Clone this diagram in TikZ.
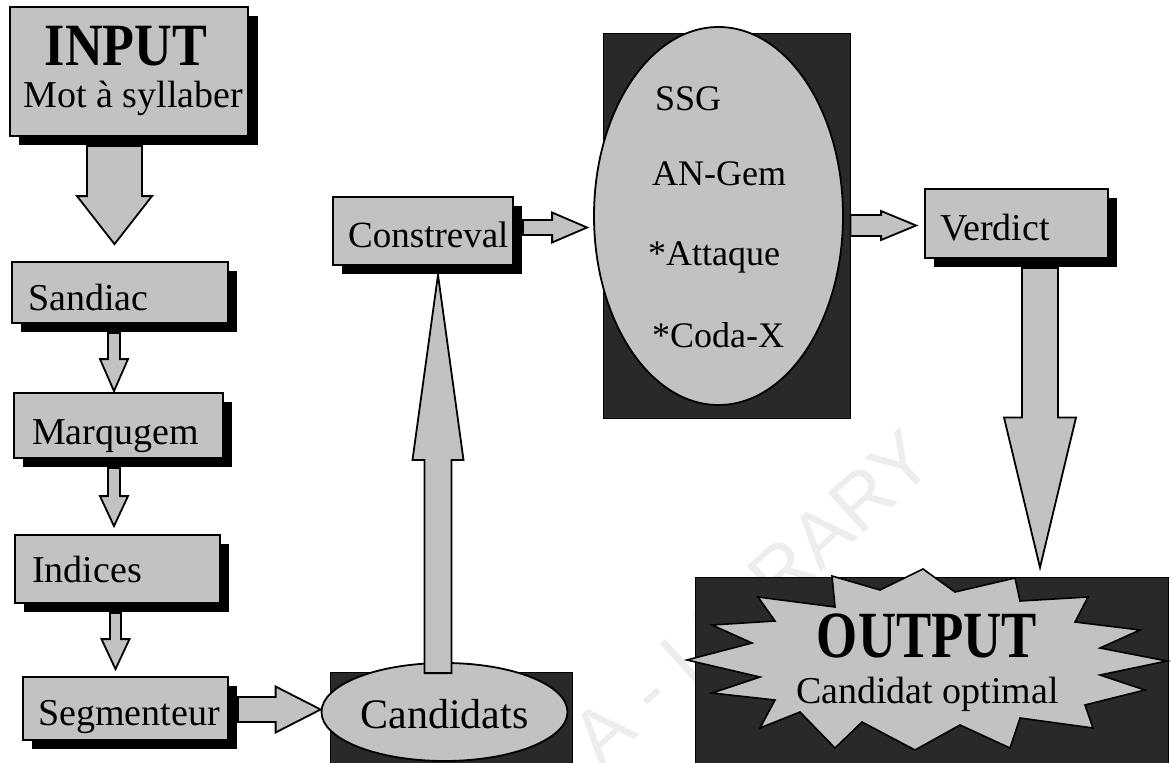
\documentclass[tikz,border=0pt]{standalone}
\usepackage{fontspec}
\setmainfont{Liberation Serif}
\setsansfont{Liberation Sans}
\usetikzlibrary{calc,shapes.geometric}

\definecolor{boxgray}{gray}{0.76}
\definecolor{darkbg}{gray}{0.16}

\tikzset{
  panel/.style={rectangle, draw=black, line width=1.8pt, fill=boxgray, inner sep=0pt,
    preaction={fill=black, transform canvas={xshift=9pt,yshift=-9pt}}},
  backdrop/.style={rectangle, draw=black, line width=1pt, fill=darkbg, inner sep=0pt},
  oval/.style={ellipse, draw=black, line width=1.8pt, fill=boxgray, inner sep=0pt},
  burst/.style={draw=black, line width=1.6pt, fill=boxgray, line join=miter},
  txt/.style={inner sep=0pt, font=\fontsize{38}{40}\selectfont},
  rule/.style={inner sep=0pt, font=\fontsize{36}{38}\selectfont, anchor=base west},
  blockarrow/.style={draw=black, line width=1.8pt, fill=boxgray, line join=miter},
}

% block arrows: #1 start (shaft centre), #2 tip, #3 half shaft width,
% #4 half head width, #5 head length
\newcommand{\blockdown}[5]{%
  \draw[blockarrow] let \p1=#1, \p2=#2 in
    (\x1-#3,\y1) -- (\x1-#3,\y2+#5) -- (\x1-#4,\y2+#5) -- (\x1,\y2)
    -- (\x1+#4,\y2+#5) -- (\x1+#3,\y2+#5) -- (\x1+#3,\y1) -- cycle;}
\newcommand{\blockup}[5]{%
  \draw[blockarrow] let \p1=#1, \p2=#2 in
    (\x1-#3,\y1) -- (\x1-#3,\y2-#5) -- (\x1-#4,\y2-#5) -- (\x1,\y2)
    -- (\x1+#4,\y2-#5) -- (\x1+#3,\y2-#5) -- (\x1+#3,\y1) -- cycle;}
\newcommand{\blockright}[5]{%
  \draw[blockarrow] let \p1=#1, \p2=#2 in
    (\x1,\y1-#3) -- (\x2-#5,\y1-#3) -- (\x2-#5,\y1-#4) -- (\x2,\y1)
    -- (\x2-#5,\y1+#4) -- (\x2-#5,\y1+#3) -- (\x1,\y1+#3) -- cycle;}

\begin{document}
\begin{tikzpicture}[x=1pt,y=-1pt]
\useasboundingbox (0,0) rectangle (1171,763);

% faint library watermark
\node[rotate=42, text=black!7, inner sep=0pt,
      font=\sffamily\fontsize{78}{78}\selectfont] (wm) at (752,598) {A - LIBRARY};

% ---------- input and the analysis chain ----------
\node[panel, minimum width=238pt, minimum height=129pt,
      preaction={fill=black, transform canvas={xshift=10pt,yshift=-9pt}}] (input) at (129,71.5) {};
\node[txt, anchor=base, font=\bfseries\fontsize{60}{60}\selectfont] (tinput) at (126,65)
     {\scalebox{0.87}[1]{INPUT}};
\node[txt, anchor=base] (tmot) at (133.5,107) {Mot à syllaber};

\node[panel, minimum width=216pt, minimum height=61pt] (sandiac) at (120,292.5) {};
\node[txt, anchor=base west] (tsandiac) at (28,310) {Sandiac};

\node[panel, minimum width=209pt, minimum height=65pt] (marq) at (118.5,425.5) {};
\node[txt, anchor=base west] (tmarq) at (32,444) {Marqugem};

\node[panel, minimum width=205pt, minimum height=68pt] (indices) at (117.5,569) {};
\node[txt, anchor=base west] (tindices) at (32,582) {Indices};

\node[panel, minimum width=205pt, minimum height=63pt] (segm) at (125.5,708.5) {};
\node[txt, anchor=base west] (tsegm) at (38,725) {Segmenteur};

% ---------- candidates ----------
\node[backdrop, minimum width=242pt, minimum height=91pt] (candbg) at (451,717.5) {};
\node[oval, minimum width=246pt, minimum height=98pt] (cand) at (444.5,712) {};
\node[txt, anchor=base, font=\fontsize{42}{44}\selectfont] (tcand) at (444.5,728) {Candidats};

% ---------- evaluation ----------
\node[panel, minimum width=180pt, minimum height=68pt] (constr) at (423,231) {};
\node[txt, anchor=base west, font=\fontsize{37}{40}\selectfont] (tconstr) at (348,247) {Constreval};

\node[backdrop, minimum width=247pt, minimum height=385pt] (rulesbg) at (726.5,225.5) {};
\node[oval, minimum width=249pt, minimum height=378pt] (rules) at (718.5,216) {};
\node[rule] (r1) at (655,110) {SSG};
\node[rule] (r2) at (652,185) {AN-Gem};
\node[rule] (r3) at (648,265) {*Attaque};
\node[rule] (r4) at (652,347) {*Coda-X};

\node[panel, minimum width=183pt, minimum height=69pt] (verdict) at (1016.5,223.5) {};
\node[txt, anchor=base west] (tverdict) at (940,240) {Verdict};

% ---------- output ----------
\node[backdrop, minimum width=473pt, minimum height=186pt] (outbg) at (931.5,670) {};
\draw[burst] (687,660) -- (752,643) -- (712,625) -- (775,621) -- (758,597) -- (835,607)
  -- (832,576) -- (880,590) -- (923,569) -- (955,592) -- (1015,578) -- (1020,601)
  -- (1088,597) -- (1075,622) -- (1140,630) -- (1100,648) -- (1167,661) -- (1100,675)
  -- (1145,690) -- (1085,705) -- (1093,728) -- (1020,718) -- (1010,748) -- (960,725)
  -- (915,750) -- (862,722) -- (835,748) -- (800,712) -- (760,728) -- (775,700)
  -- (712,693) -- (760,677) -- cycle;
\node[txt, anchor=base, font=\bfseries\fontsize{66}{66}\selectfont] (toutput) at (927,657)
     {\scalebox{0.8}[1]{OUTPUT}};
\node[txt, anchor=base] (toptimal) at (927.5,703) {Candidat optimal};

% ---------- block arrows ----------
\blockdown{([xshift=-14.5pt,yshift=-9pt]input.south)}{([yshift=17pt]sandiac.north)}{27.5pt}{37.5pt}{48pt}
\blockdown{([xshift=-6pt,yshift=-9pt]sandiac.south)}{([yshift=1pt]marq.north)}{6pt}{14pt}{32pt}
\blockdown{([xshift=-4.5pt,yshift=-9pt]marq.south)}{([yshift=8pt]indices.north)}{6pt}{14pt}{30pt}
\blockdown{([xshift=-2pt,yshift=-9pt]indices.south)}{([yshift=7pt]segm.north)}{5.5pt}{14pt}{30pt}
\blockright{([xshift=9pt,yshift=-1pt]segm.east)}{(cand.west)}{12.5pt}{23pt}{45pt}
\blockup{([xshift=-6.5pt,yshift=-11pt]cand.north)}{([yshift=-9pt]constr.south)}{13.5pt}{25.5pt}{185pt}
\blockright{([xshift=9pt,yshift=3.5pt]constr.east)}{([xshift=-6pt]rules.west)}{7.5pt}{15pt}{35pt}
\blockright{(rulesbg.east)}{([xshift=-8pt]verdict.west)}{10.5pt}{14.5pt}{35pt}
\blockdown{([xshift=23.5pt,yshift=-9pt]verdict.south)}{([yshift=9pt]outbg.north)}{18pt}{36pt}{150pt}
\end{tikzpicture}
\end{document}
